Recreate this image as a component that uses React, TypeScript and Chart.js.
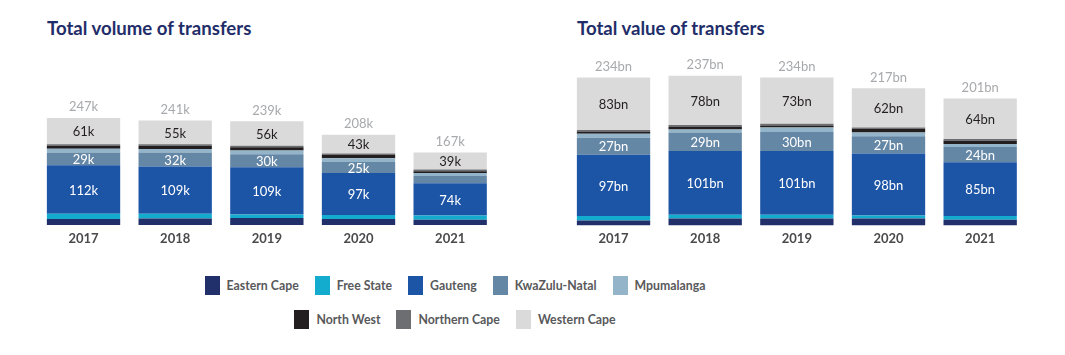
import React, { useEffect, useRef } from "react";
import { Chart, registerables } from "chart.js";

Chart.register(...registerables);

const years = ["2017", "2018", "2019", "2020", "2021"];
const regions = [
  "Eastern Cape",
  "Free State",
  "Gauteng",
  "KwaZulu-Natal",
  "Mpumalanga",
  "North West",
  "Northern Cape",
  "Western Cape",
];
const regionColors = [
  "#21306b",
  "#14acce",
  "#1d55a6",
  "#6587a6",
  "#94b5c9",
  "#231f20",
  "#6d6e71",
  "#dadada",
];

// Total volume of transfers (thousands)
const volEasternCape = [14, 15, 16, 14, 12];
const volFreeState = [12, 11, 8, 9, 10];
const volGauteng = [112, 109, 109, 97, 74];
const volKwaZuluNatal = [29, 32, 30, 25, 17];
const volMpumalanga = [9, 8, 9, 9, 7];
const volNorthWest = [7, 8, 7, 8, 4];
const volNorthernCape = [3, 3, 4, 3, 4];
const volWesternCape = [61, 55, 56, 43, 39];

// Total value of transfers (R billions)
const valEasternCape = [8, 11, 11, 11, 9];
const valFreeState = [7, 6, 6, 5, 6];
const valGauteng = [97, 101, 101, 98, 85];
const valKwaZuluNatal = [27, 29, 30, 27, 24];
const valMpumalanga = [6, 5, 7, 6, 5];
const valNorthWest = [3, 4, 3, 6, 5];
const valNorthernCape = [3, 3, 3, 2, 3];
const valWesternCape = [83, 78, 73, 62, 64];

const volumeSeries = [
  volEasternCape,
  volFreeState,
  volGauteng,
  volKwaZuluNatal,
  volMpumalanga,
  volNorthWest,
  volNorthernCape,
  volWesternCape,
];
const valueSeries = [
  valEasternCape,
  valFreeState,
  valGauteng,
  valKwaZuluNatal,
  valMpumalanga,
  valNorthWest,
  valNorthernCape,
  valWesternCape,
];

const LABELLED = [2, 3, 7];
const FONT = "Lato, 'Source Sans Pro', sans-serif";

function makeLabelPlugin(suffix: string) {
  return {
    id: "segmentLabels",
    afterDatasetsDraw(chart: any) {
      const ctx = chart.ctx;
      ctx.save();
      ctx.font = `13px ${FONT}`;
      ctx.textAlign = "center";
      ctx.textBaseline = "middle";
      chart.data.datasets.forEach((ds: any, i: number) => {
        if (!LABELLED.includes(i)) return;
        const meta = chart.getDatasetMeta(i);
        meta.data.forEach((bar: any, j: number) => {
          const h = Math.abs(bar.base - bar.y);
          if (h < 9) return;
          ctx.fillStyle = i === 7 ? "#231f20" : "#ffffff";
          ctx.fillText(ds.data[j] + suffix, bar.x, (bar.y + bar.base) / 2 + 1);
        });
      });
      const n = chart.data.datasets.length;
      const top = chart.getDatasetMeta(n - 1);
      ctx.fillStyle = "#a7a9ac";
      top.data.forEach((bar: any, j: number) => {
        const total = chart.data.datasets.reduce(
          (s: number, d: any) => s + d.data[j],
          0
        );
        ctx.fillText(total + suffix, bar.x, bar.y - 11);
      });
      ctx.restore();
    },
  };
}

function StackedChart(props: {
  series: number[][];
  suffix: string;
  left: number;
  width: number;
  height: number;
  padding: { left: number; right: number; top: number; bottom: number };
}) {
  const ref = useRef<HTMLCanvasElement>(null);
  useEffect(() => {
    const chart = new Chart(ref.current as HTMLCanvasElement, {
      type: "bar",
      data: {
        labels: years,
        datasets: props.series.map((data, i) => ({
          label: regions[i],
          data,
          backgroundColor: regionColors[i],
          borderWidth: 0,
          barPercentage: 0.8,
          categoryPercentage: 1.0,
        })),
      },
      options: {
        animation: false,
        responsive: false,
        maintainAspectRatio: false,
        layout: { padding: props.padding },
        plugins: {
          legend: { display: false },
          tooltip: { enabled: false },
          title: { display: false },
        },
        scales: {
          x: {
            stacked: true,
            grid: { display: false, drawTicks: false },
            border: { display: false },
            ticks: {
              color: "#4a4a4c",
              font: { family: FONT, size: 13, weight: "bold" },
              padding: 6,
            },
          },
          y: { stacked: true, display: false, min: 0, max: 300 },
        },
      } as any,
      plugins: [makeLabelPlugin(props.suffix)],
    });
    return () => chart.destroy();
  }, []);
  return (
    <canvas
      ref={ref}
      width={props.width}
      height={props.height}
      style={{
        position: "absolute",
        left: props.left,
        top: 0,
        width: props.width,
        height: props.height,
      }}
    />
  );
}

const titleStyle: React.CSSProperties = {
  position: "absolute",
  top: 17,
  fontFamily: FONT,
  fontWeight: 700,
  fontSize: 18.6,
  lineHeight: "22px",
  color: "#1f2d69",
  whiteSpace: "nowrap",
};

function LegendItem({ i }: { i: number }) {
  return (
    <div style={{ display: "flex", alignItems: "center", margin: "0 8px" }}>
      <div
        style={{
          width: 15,
          height: 19,
          background: regionColors[i],
          marginRight: 7,
        }}
      />
      <span>{regions[i]}</span>
    </div>
  );
}

export default function App() {
  return (
    <div
      style={{
        position: "absolute",
        left: 0,
        top: 0,
        width: 1065,
        height: 355,
        background: "#ffffff",
        overflow: "hidden",
        fontFamily: FONT,
      }}
    >
      <div style={{ ...titleStyle, left: 47 }}>Total volume of transfers</div>
      <div style={{ ...titleStyle, left: 577 }}>Total value of transfers</div>
      <StackedChart
        series={volumeSeries}
        suffix="k"
        left={0}
        width={532}
        height={255}
        padding={{ left: 37.7, right: 36, top: 226 - 300 * 0.437, bottom: 2.4 }}
      />
      <StackedChart
        series={valueSeries}
        suffix="bn"
        left={532}
        width={533}
        height={255}
        padding={{ left: 35.7, right: 39, top: 226.5 - 300 * 0.6355, bottom: 1.9 }}
      />
      <div
        style={{
          position: "absolute",
          left: 0,
          top: 276,
          width: 910,
          fontSize: 12.3,
          fontWeight: 700,
          color: "#58595b",
        }}
      >
        <div style={{ display: "flex", justifyContent: "center", height: 19 }}>
          {[0, 1, 2, 3, 4].map((i) => (
            <LegendItem key={i} i={i} />
          ))}
        </div>
        <div
          style={{
            display: "flex",
            justifyContent: "center",
            height: 20,
            marginTop: 14,
          }}
        >
          {[5, 6, 7].map((i) => (
            <LegendItem key={i} i={i} />
          ))}
        </div>
      </div>
    </div>
  );
}
